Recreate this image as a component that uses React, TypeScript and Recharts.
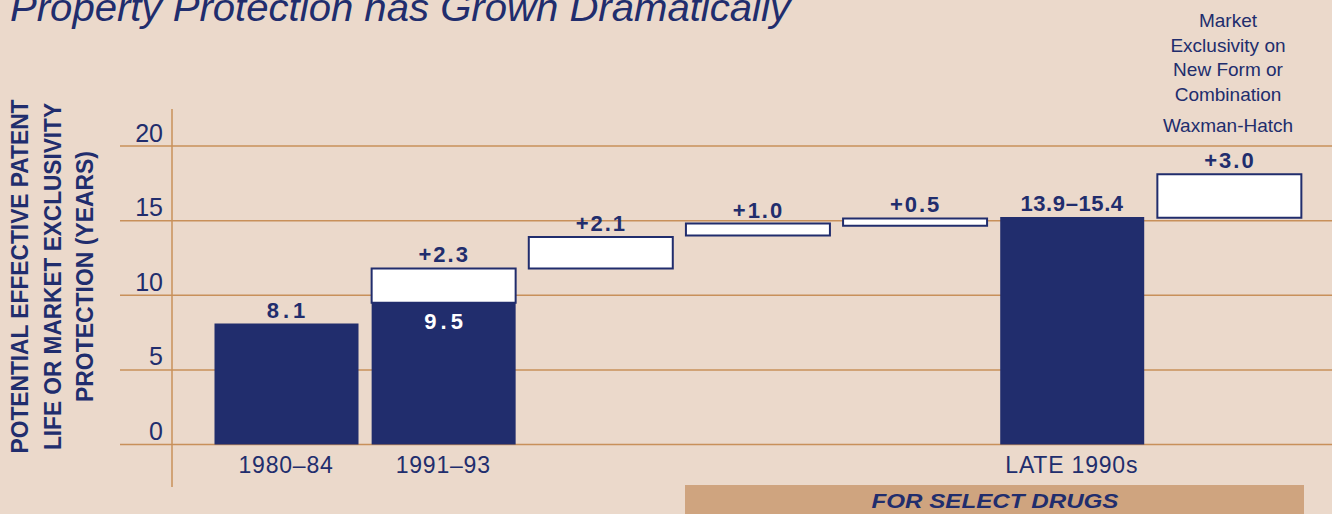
import { ComposedChart, Bar, Line, XAxis, YAxis, CartesianGrid, LabelList } from "recharts";

const BG = "#EBD9CB";
const NAVY = "#212D6D";
const GRID = "#C8905A";
const BAND = "#CFA47F";
const FONT = '"Liberation Sans", Arial, sans-serif';

const CATEGORIES = ["1980–84", "1991–93", "orphan", "restoration", "pediatric", "LATE 1990s", "waxman"];
const TICK_LABELS = ["1980–84", "1991–93", "", "", "", "LATE 1990s", ""];
// invisible offset under the floating boxes
const BASE = [0, 0, 11.8, 14.0, 14.65, 0, 15.2];
// navy part
const PATENT = [8.1, 9.5, 0, 0, 0, 15.25, 0];
// white boxes
const ADDED = [0, 2.3, 2.1, 0.8, 0.5, 0, 2.9];
const TOP_LABELS = ["8.1", "+2.3", "+2.1", "+1.0", "+0.5", "13.9–15.4", "+3.0"];
const INNER_LABELS = ["", "9.5", "", "", "", "", ""];
const Y_TICKS = [0, 5, 10, 15, 20];

const Y_TITLE = ["POTENTIAL EFFECTIVE PATENT", "LIFE OR MARKET EXCLUSIVITY", "PROTECTION (YEARS)"];
const NOTE_LINES = ["Market", "Exclusivity on", "New Form or", "Combination"];

const data = CATEGORIES.map((key, i) => ({
  key,
  base: BASE[i],
  patent: PATENT[i],
  added: ADDED[i],
  top: BASE[i] + PATENT[i] + ADDED[i],
}));

function spacing(label: string) {
  if (label.length <= 3) return 4;
  if (label.length <= 4) return 2;
  return 0.6;
}

function pos(props: any) {
  const vb = props.viewBox || {};
  return {
    x: props.x ?? vb.x,
    y: props.y ?? vb.y,
    width: props.width ?? vb.width ?? 0,
  };
}

function TopLabel(props: any) {
  const { x, y } = pos(props);
  const text = TOP_LABELS[props.index];
  if (!text || x == null || y == null) return null;
  const ls = spacing(text);
  return (
    <text
      x={x + ls / 2}
      y={y - 6}
      textAnchor="middle"
      fontFamily={FONT}
      fontWeight="bold"
      fontSize={22}
      letterSpacing={ls}
      fill={NAVY}
    >
      {text}
    </text>
  );
}

function InnerLabel(props: any) {
  const { x, y, width } = pos(props);
  const text = INNER_LABELS[props.index];
  if (!text || x == null || y == null) return null;
  const ls = spacing(text);
  return (
    <text
      x={x + width / 2 + ls / 2}
      y={y + 26}
      textAnchor="middle"
      fontFamily={FONT}
      fontWeight="bold"
      fontSize={22}
      letterSpacing={ls}
      fill="#ffffff"
    >
      {text}
    </text>
  );
}

function YTick({ y, payload }: any) {
  return (
    <text x={163} y={y - 4.5} textAnchor="end" fontFamily={FONT} fontSize={25} fill={NAVY}>
      {payload.value}
    </text>
  );
}

function XTick({ x, y, payload }: any) {
  const label = TICK_LABELS[CATEGORIES.indexOf(payload.value)];
  if (!label) return null;
  return (
    <text x={x} y={y + 28.5} textAnchor="middle" fontFamily={FONT} fontSize={23} letterSpacing={0.8} fill={NAVY}>
      {label}
    </text>
  );
}

export default function App() {
  return (
    <div style={{ position: "absolute", left: 0, top: 0, width: 1332, height: 514, background: BG, overflow: "hidden" }}>
      <ComposedChart
        width={1332}
        height={514}
        data={data}
        margin={{ top: 146, right: 0, bottom: 29.5, left: 0 }}
      >
        <CartesianGrid vertical={false} stroke={GRID} strokeWidth={1.5} />
        <XAxis
          dataKey="key"
          interval={0}
          axisLine={false}
          tickLine={false}
          tickSize={0}
          tickMargin={0}
          height={40}
          padding={{ left: 87.5, right: 24.5 }}
          tick={<XTick />}
        />
        <YAxis
          domain={[0, 20]}
          ticks={Y_TICKS}
          width={120}
          axisLine={false}
          tickLine={false}
          tick={<YTick />}
        />
        <Bar dataKey="base" stackId="s" fill="transparent" barSize={144} isAnimationActive={false} />
        <Bar dataKey="patent" stackId="s" fill={NAVY} barSize={144} isAnimationActive={false}>
          <LabelList dataKey="patent" content={InnerLabel} />
        </Bar>
        <Bar dataKey="added" stackId="s" fill="#ffffff" stroke={NAVY} strokeWidth={2} barSize={144} isAnimationActive={false} />
        <Line dataKey="top" stroke="none" dot={false} activeDot={false} isAnimationActive={false}>
          <LabelList dataKey="top" content={TopLabel} />
        </Line>
      </ComposedChart>

      <svg width={1332} height={514} style={{ position: "absolute", left: 0, top: 0, pointerEvents: "none" }}>
        <text
          x={10}
          y={20.5}
          fontFamily={FONT}
          fontStyle="italic"
          fontSize={38}
          textLength={780}
          lengthAdjust="spacingAndGlyphs"
          fill={NAVY}
        >
          Property Protection has Grown Dramatically
        </text>

        {Y_TITLE.map((line, i) => (
          <text
            key={line}
            transform={`translate(${[28, 61, 93][i]},276.5) rotate(-90)`}
            textAnchor="middle"
            fontFamily={FONT}
            fontWeight="bold"
            fontSize={24}
            textLength={[354, 347, 251][i]}
            lengthAdjust="spacingAndGlyphs"
            fill={NAVY}
          >
            {line}
          </text>
        ))}

        <line x1={172} y1={109} x2={172} y2={487} stroke={GRID} strokeWidth={1.5} />

        {NOTE_LINES.map((line, i) => (
          <text key={line} x={1228} y={27 + i * 24.5} textAnchor="middle" fontFamily={FONT} fontSize={19} fill={NAVY}>
            {line}
          </text>
        ))}
        <text x={1228} y={131.5} textAnchor="middle" fontFamily={FONT} fontSize={19} fill={NAVY}>
          Waxman-Hatch
        </text>

        <rect x={685} y={485} width={619} height={30} fill={BAND} />
        <text
          x={995}
          y={508}
          textAnchor="middle"
          fontFamily={FONT}
          fontWeight="bold"
          fontStyle="italic"
          fontSize={21}
          textLength={247}
          lengthAdjust="spacingAndGlyphs"
          fill={NAVY}
        >
          FOR SELECT DRUGS
        </text>
      </svg>
    </div>
  );
}
